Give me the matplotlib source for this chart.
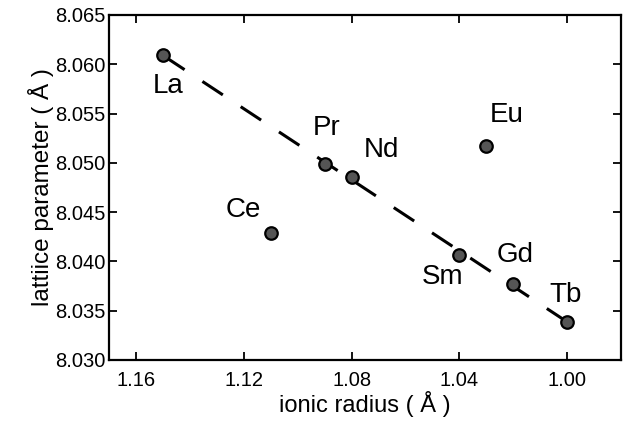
import numpy as np
import matplotlib
matplotlib.use("Agg")
import matplotlib.pyplot as plt

plt.rcParams['font.family'] = ['Liberation Sans', 'DejaVu Sans']

# data
elements = ['La', 'Ce', 'Pr', 'Nd', 'Sm', 'Eu', 'Gd', 'Tb']
radius = [1.150, 1.110, 1.090, 1.080, 1.040, 1.030, 1.020, 1.000]
lattice = [8.0609, 8.0429, 8.0499, 8.0486, 8.0406, 8.0517, 8.0377, 8.0339]
# points used for the dashed trend line (Ce and Eu left out)
fit_set = ['La', 'Pr', 'Nd', 'Sm', 'Gd', 'Tb']

# label offsets in pixels (dx, dy), dy up
offsets = {'La': (5, -31), 'Ce': (-28, 23), 'Pr': (2, 36), 'Nd': (30, 27),
           'Sm': (-17, -22), 'Eu': (20, 31), 'Gd': (2, 29), 'Tb': (-2, 27)}

fig = plt.figure(figsize=(6.28, 4.21), dpi=100)
ax = fig.add_axes([0.174, 0.145, 0.815, 0.8195])

# trend line, drawn from Tb end so the dash pattern meets the Tb point
fx = np.array([radius[elements.index(e)] for e in fit_set])
fy = np.array([lattice[elements.index(e)] for e in fit_set])
p = np.polyfit(fx, fy, 1)
xx = np.array([fx.min(), fx.max()])
ax.plot(xx, np.polyval(p, xx), color='black', lw=2.2,
        linestyle=(0, (8, 7)), dash_capstyle='butt', zorder=2)

ax.plot(radius, lattice, 'o', ms=9, mfc='#555555', mec='black', mew=1.6,
        zorder=3, linestyle='none')

for e, x, y in zip(elements, radius, lattice):
    dx, dy = offsets[e]
    ax.annotate(e, (x, y), xytext=(dx, dy), textcoords='offset pixels',
                ha='center', va='center', fontsize=20)

ax.set_xlim(1.17, 0.98)
ax.set_ylim(8.030, 8.065)
ax.set_xticks([1.16, 1.12, 1.08, 1.04, 1.00])
ax.set_xticklabels(['1.16', '1.12', '1.08', '1.04', '1.00'])
ax.set_yticks(np.arange(8.030, 8.0651, 0.005))
ax.set_yticklabels(['%.3f' % v for v in np.arange(8.030, 8.0651, 0.005)])

ax.tick_params(direction='in', length=6, width=1.3, labelsize=14.5,
               top=True, right=True)
ax.tick_params(axis='x', pad=8)
ax.tick_params(axis='y', pad=3)
for s in ax.spines.values():
    s.set_linewidth(1.6)

ax.set_xlabel('ionic radius ( Å )', fontsize=17, labelpad=0.5)
ax.set_ylabel('lattiice parameter ( Å )', fontsize=17.5, labelpad=0.5)

fig.savefig('out.png', dpi=100)
